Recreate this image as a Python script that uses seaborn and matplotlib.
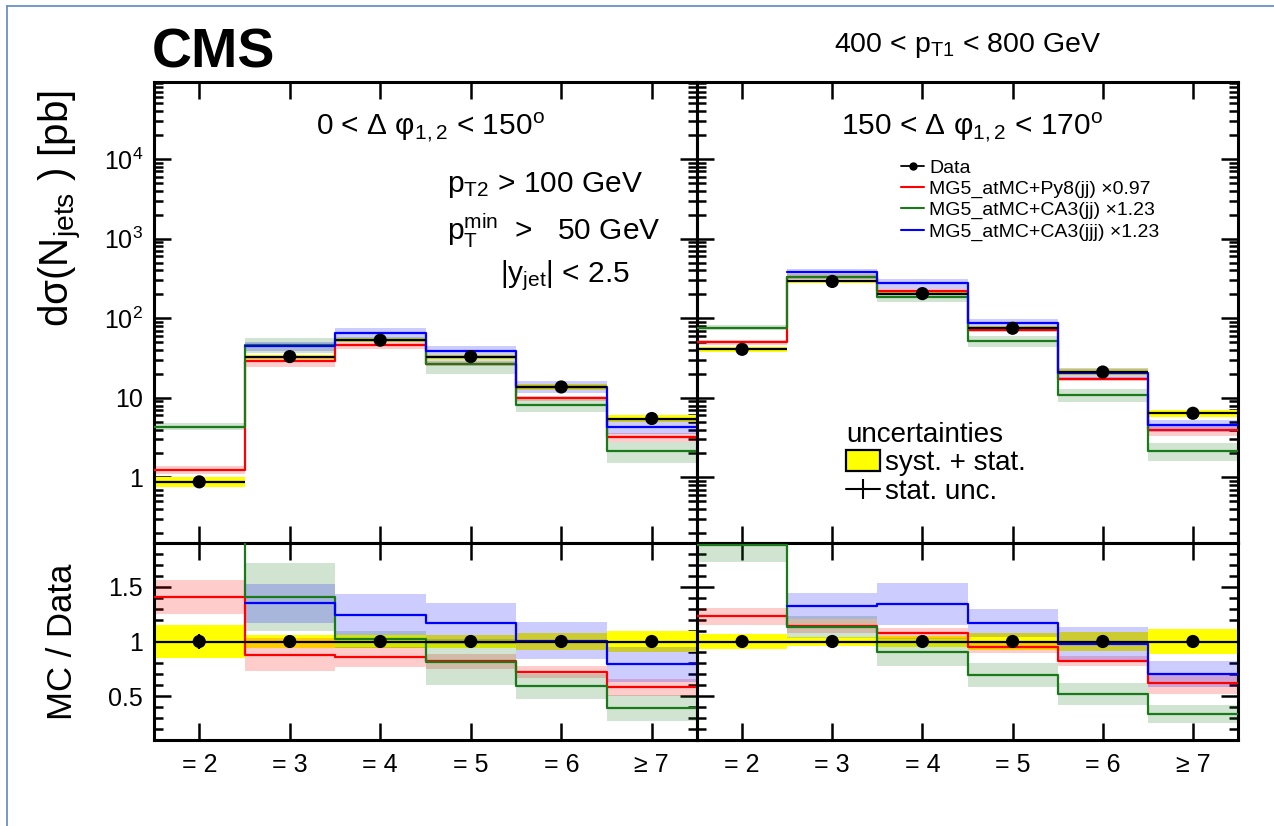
import numpy as np
import pandas as pd
import matplotlib
matplotlib.use("Agg")
import matplotlib.pyplot as plt
import seaborn as sns
from matplotlib.lines import Line2D
from matplotlib.patches import Patch
from matplotlib.ticker import FixedLocator, FixedFormatter, LogLocator, MultipleLocator, NullFormatter

# ---------------------------------------------------------------- data
categories = ["= 2", "= 3", "= 4", "= 5", "= 6", "\u2265 7"]

# 0 < dphi12 < 150 deg
data_low = [0.88, 33.0, 53.0, 33.0, 13.7, 5.5]
data_low_tot = [0.15, 0.055, 0.06, 0.055, 0.075, 0.10]     # relative syst. + stat.
data_low_stat = [0.065, 0.01, 0.01, 0.01, 0.015, 0.02]     # relative stat.
py8_low = [1.24, 29.0, 45.5, 27.0, 9.9, 3.2]
ca3jj_low = [4.35, 46.5, 54.0, 26.8, 8.1, 2.15]
ca3jjj_low = [np.nan, 44.5, 66.0, 38.5, 13.8, 4.35]
py8_low_unc = [0.11, 0.17, 0.11, 0.08, 0.08, 0.13]
ca3jj_low_unc = [0.10, 0.22, 0.08, 0.26, 0.19, 0.30]
ca3jjj_low_unc = [np.nan, 0.13, 0.15, 0.16, 0.17, 0.20]

# 150 < dphi12 < 170 deg
data_high = [40.7, 290.0, 204.0, 74.8, 21.1, 6.4]
data_high_tot = [0.065, 0.045, 0.05, 0.075, 0.085, 0.11]
data_high_stat = [0.01, 0.005, 0.005, 0.01, 0.015, 0.02]
py8_high = [50.0, 332.0, 219.0, 71.0, 17.3, 3.95]
ca3jj_high = [76.5, 328.0, 185.0, 52.0, 11.0, 2.15]
ca3jjj_high = [np.nan, 385.0, 274.0, 87.5, 20.7, 4.5]
py8_high_unc = [0.065, 0.055, 0.05, 0.055, 0.055, 0.15]
ca3jj_high_unc = [0.08, 0.09, 0.14, 0.16, 0.19, 0.25]
ca3jjj_high_unc = [np.nan, 0.09, 0.14, 0.11, 0.15, 0.17]

generators = ["MG5_atMC+Py8(jj) \u00d70.97",
              "MG5_atMC+CA3(jj) \u00d71.23",
              "MG5_atMC+CA3(jjj) \u00d71.23"]
gen_colors = ["#ff0000", "#1a7a1a", "#0000ff"]

panels = [
    dict(title="0 < \u0394 \u03c6$_{1,2}$ < 150$^{\\rm o}$",
         data=data_low, tot=data_low_tot, stat=data_low_stat,
         mc=[py8_low, ca3jj_low, ca3jjj_low],
         unc=[py8_low_unc, ca3jj_low_unc, ca3jjj_low_unc]),
    dict(title="150 < \u0394 \u03c6$_{1,2}$ < 170$^{\\rm o}$",
         data=data_high, tot=data_high_tot, stat=data_high_stat,
         mc=[py8_high, ca3jj_high, ca3jjj_high],
         unc=[py8_high_unc, ca3jj_high_unc, ca3jjj_high_unc]),
]

# ---------------------------------------------------------------- style
sns.set_theme(style="ticks")
plt.rcParams["font.family"] = ["Liberation Sans", "DejaVu Sans"]
plt.rcParams["mathtext.fontset"] = "custom"
plt.rcParams["mathtext.rm"] = "Liberation Sans"
plt.rcParams["mathtext.it"] = "Liberation Sans"
plt.rcParams["mathtext.sf"] = "Liberation Sans"
plt.rcParams["mathtext.bf"] = "Liberation Sans:bold"
for key in ["text.color", "axes.labelcolor", "xtick.color", "ytick.color",
            "axes.edgecolor"]:
    plt.rcParams[key] = "black"

W, H = 1274, 826
fig = plt.figure(figsize=(W / 100, H / 100), dpi=100)


def px(x, y):
    return x / W, 1 - y / H


def box(x0, y0, x1, y1):
    return [x0 / W, 1 - y1 / H, (x1 - x0) / W, (y1 - y0) / H]


x_left, x_mid, x_right = 154, 697, 1238
y_top, y_split, y_bot = 82, 543, 740

nb = len(categories)
centers = np.arange(nb)
edges = np.arange(nb + 1) - 0.5
lw_mc = 1.6


def step_frame(values):
    """Long-form table of left bin edges (plus final edge) for step lines."""
    rows = []
    for g, vals in zip(generators, values):
        v = np.asarray(vals, dtype=float)
        for i in range(nb):
            if np.isfinite(v[i]):
                rows.append((g, edges[i], v[i]))
        rows.append((g, edges[-1], v[-1]))
    return pd.DataFrame(rows, columns=["generator", "edge", "value"])


def style_axes(ax):
    ax.set_xlim(edges[0], edges[-1])
    ax.xaxis.set_major_locator(FixedLocator(centers))
    ax.tick_params(which="both", direction="in", top=True, right=True,
                   color="black", width=1.8)
    ax.tick_params(which="major", length=12.5)
    ax.tick_params(which="minor", length=6.5)
    ax.tick_params(axis="x", which="minor", length=0)
    for s in ax.spines.values():
        s.set_linewidth(2.2)
        s.set_color("black")
    ax.set_xlabel("")
    ax.set_ylabel("")
    ax.grid(False)


for k, p in enumerate(panels):
    x0 = x_left if k == 0 else x_mid
    x1 = x_mid if k == 0 else x_right
    ax = fig.add_axes(box(x0, y_top, x1, y_split))
    axr = fig.add_axes(box(x0, y_split, x1, y_bot))

    data = np.asarray(p["data"])
    tot = np.asarray(p["tot"])
    stat = np.asarray(p["stat"])

    # ---------------- main panel
    ax.set_yscale("log")
    ax.stairs(data * (1 + tot), edges, baseline=data * (1 - tot), fill=True,
              color="#ffff00", lw=0, zorder=1)
    for vals, unc, c in zip(p["mc"], p["unc"], gen_colors):
        v = np.asarray(vals, dtype=float)
        u = np.asarray(unc, dtype=float)
        s = int(np.argmax(np.isfinite(v)))
        ax.stairs((v * (1 + u))[s:], edges[s:], baseline=(v * (1 - u))[s:],
                  fill=True, color=c, alpha=0.2, lw=0, zorder=2)
    sns.lineplot(data=step_frame(p["mc"]), x="edge", y="value", hue="generator",
                 palette=dict(zip(generators, gen_colors)), estimator=None,
                 drawstyle="steps-post", lw=lw_mc, legend=False, ax=ax, zorder=4)
    ax.errorbar(centers, data, xerr=0.5, yerr=data * stat, fmt="none",
                ecolor="black", elinewidth=1.6, capsize=0, zorder=5)
    sns.scatterplot(x=centers, y=data, color="black", s=90, edgecolor="none",
                    ax=ax, zorder=6)
    ax.set_ylim(0.15, 9.3e4)
    ax.yaxis.set_major_locator(FixedLocator([1, 10, 100, 1e3, 1e4]))
    ax.yaxis.set_minor_locator(LogLocator(base=10, subs=np.arange(2, 10), numticks=20))
    ax.yaxis.set_minor_formatter(NullFormatter())
    style_axes(ax)
    ax.set_xticklabels([])
    if k == 0:
        ax.yaxis.set_major_formatter(FixedFormatter(
            ["1", "10", "$10^{2}$", "$10^{3}$", "$10^{4}$"]))
        ax.tick_params(axis="y", which="major", labelsize=18, pad=8)
    else:
        ax.set_yticklabels([])

    # ---------------- ratio panel
    axr.stairs(1 + tot, edges, baseline=1 - tot, fill=True,
               color="#ffff00", lw=0, zorder=1)
    ratios = []
    for vals, unc, c in zip(p["mc"], p["unc"], gen_colors):
        r = np.asarray(vals, dtype=float) / data
        u = np.asarray(unc, dtype=float)
        ratios.append(r)
        s = int(np.argmax(np.isfinite(r)))
        axr.stairs((r * (1 + u))[s:], edges[s:], baseline=(r * (1 - u))[s:],
                   fill=True, color=c, alpha=0.2, lw=0, zorder=2)
    sns.lineplot(data=step_frame(ratios), x="edge", y="value", hue="generator",
                 palette=dict(zip(generators, gen_colors)), estimator=None,
                 drawstyle="steps-post", lw=lw_mc, legend=False, ax=axr, zorder=4)
    axr.axhline(1, color="black", lw=1.6, zorder=5)
    axr.errorbar(centers, np.ones(nb), yerr=stat, fmt="none", ecolor="black",
                 elinewidth=1.6, capsize=0, zorder=5)
    sns.scatterplot(x=centers, y=np.ones(nb), color="black", s=90,
                    edgecolor="none", ax=axr, zorder=6)
    axr.set_ylim(0.1, 1.9)
    axr.yaxis.set_major_locator(FixedLocator([0.5, 1.0, 1.5]))
    axr.yaxis.set_minor_locator(MultipleLocator(0.1))
    style_axes(axr)
    axr.xaxis.set_major_formatter(FixedFormatter(categories))
    axr.tick_params(axis="x", which="major", labelsize=18, pad=9)
    if k == 0:
        axr.yaxis.set_major_formatter(FixedFormatter(["0.5", "1", "1.5"]))
        axr.tick_params(axis="y", which="major", labelsize=18, pad=8)
    else:
        axr.set_yticklabels([])

    # panel heading
    fig.text(*px((x0 + x1) / 2 + 5, 135), p["title"], ha="center",
             va="baseline", fontsize=21.5)

    if k == 0:
        fig.text(*px(447, 192), "p$_{T2}$ > 100 GeV", ha="left",
                 va="baseline", fontsize=21.5)
        fig.text(*px(447, 240), "p$_{T}^{min}$  >   50 GeV", ha="left",
                 va="baseline", fontsize=21.5)
        fig.text(*px(500, 282), "|y$_{jet}$| < 2.5", ha="left",
                 va="baseline", fontsize=21.5)
    else:
        handles = [Line2D([], [], color="black", lw=1.3, marker="o", ms=5)]
        handles += [Line2D([], [], color=c, lw=1.5) for c in gen_colors]
        ax.legend(handles, ["Data"] + generators, loc="upper left",
                  bbox_to_anchor=px(901, 159), bbox_transform=fig.transFigure,
                  frameon=False, fontsize=14, handlelength=1.2,
                  handletextpad=0.26, labelspacing=0.18, borderpad=0,
                  borderaxespad=0)

# uncertainty key
unc_handles = [Patch(facecolor="#ffff00", edgecolor="black", lw=1.6),
               Line2D([], [], color="black", lw=1.5, marker="|", ms=15, mew=1.5)]
fig.legend(unc_handles, ["syst. + stat.", "stat. unc."], title="uncertainties",
           loc="upper left", bbox_to_anchor=px(846, 422), frameon=False,
           fontsize=20, title_fontsize=20, alignment="left",
           handlelength=1.22, handleheight=0.78, handletextpad=0.2,
           labelspacing=0.08, borderpad=0, borderaxespad=0)

# headings and axis titles
fig.text(*px(152, 68), "CMS", ha="left", va="baseline", fontsize=40,
         fontweight="bold")
fig.text(*px(968, 52), "400 < p$_{T1}$ < 800 GeV", ha="center",
         va="baseline", fontsize=20.5)
fig.text(*px(60, 209), "d\u03c3(N$_{jets}$ ) [pb]", rotation=90, ha="center",
         va="center", fontsize=29)
fig.text(*px(62, 642), "MC / Data", rotation=90, ha="center", va="center",
         fontsize=25)

# page frame
frame = "#5b87c5"
fig.add_artist(Line2D([7 / W, 1], [1 - 6 / H, 1 - 6 / H],
                      transform=fig.transFigure, color=frame, lw=1.2))
fig.add_artist(Line2D([7 / W, 7 / W], [0, 1 - 6 / H],
                      transform=fig.transFigure, color=frame, lw=1.2))

fig.savefig("out.png", dpi=100, facecolor="white")
